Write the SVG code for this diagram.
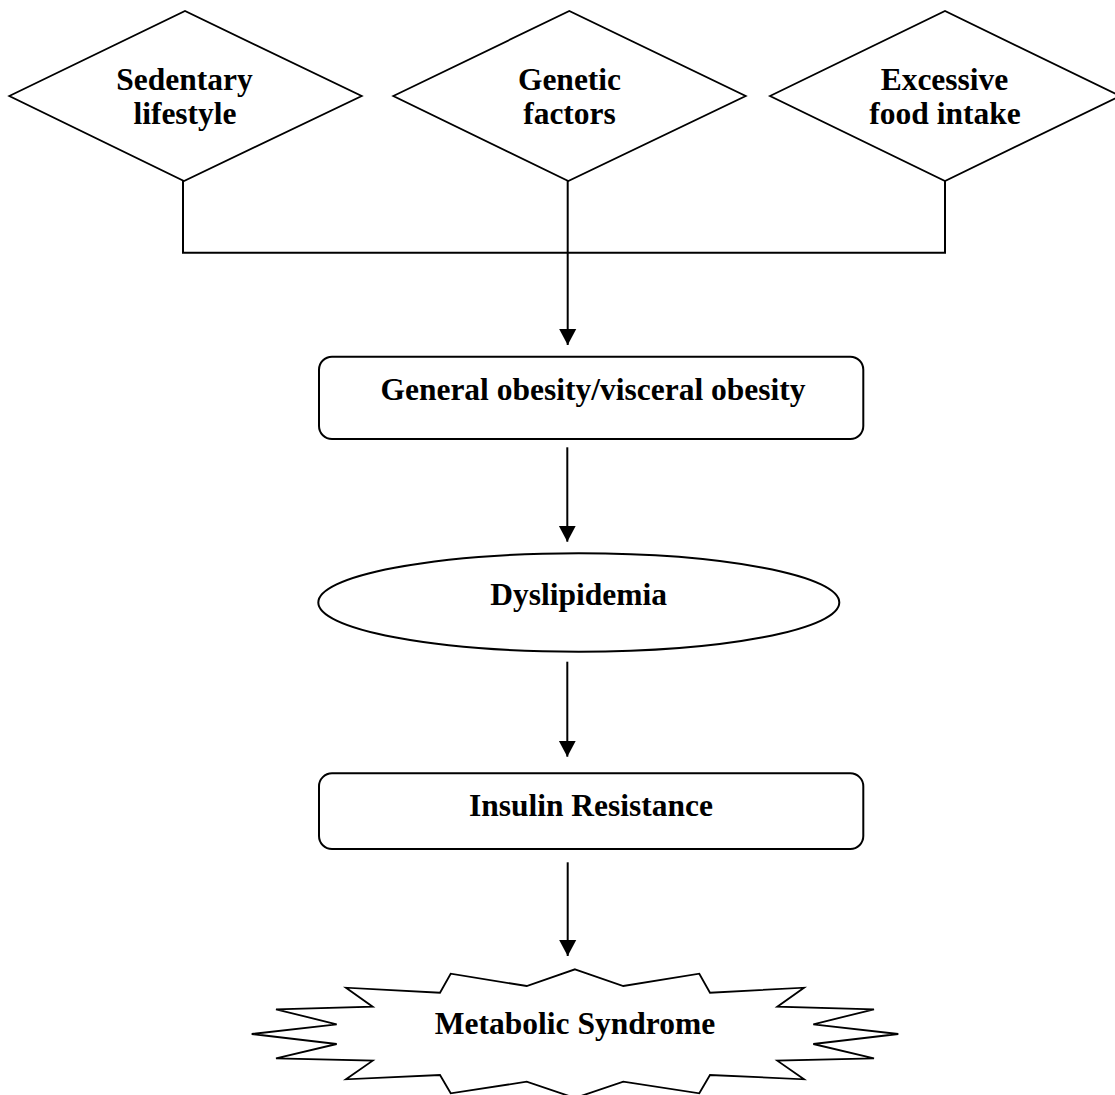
<svg xmlns="http://www.w3.org/2000/svg" width="1115" height="1095" viewBox="0 0 1115 1095">
<style>
.shape{fill:#fff;stroke:#000;stroke-width:1.8;stroke-linejoin:miter}
.box{fill:#fff;stroke:#000;stroke-width:2}
.conn{fill:none;stroke:#000;stroke-width:2}
.lbl{font-family:"Liberation Serif","Times New Roman",serif;font-weight:bold;font-size:31.5px;fill:#000;text-anchor:middle}
</style>
<defs>
<marker id="arr" markerUnits="userSpaceOnUse" markerWidth="16" markerHeight="18" viewBox="0 -8 15 16" refX="15" refY="0" orient="auto">
<path d="M0,-8 L15,0 L0,8 z" fill="#000"/>
</marker>
</defs>
<rect x="0" y="0" width="1115" height="1095" fill="#fff"/>
<g id="connectors">
<polyline class="conn" points="183,181 183,252.7 945,252.7 945,181"/>
<line class="conn" x1="567.7" y1="181" x2="567.7" y2="345" marker-end="url(#arr)"/>
<line class="conn" x1="567.3" y1="447.3" x2="567.3" y2="541.7" marker-end="url(#arr)"/>
<line class="conn" x1="567.3" y1="661.7" x2="567.3" y2="756.7" marker-end="url(#arr)"/>
<line class="conn" x1="567.7" y1="862.3" x2="567.7" y2="956" marker-end="url(#arr)"/>
</g>
<g id="sedentary">
<polygon class="shape" points="9.3,96 185,11 361.7,96 184,181"/>
<text class="lbl" x="184.5" y="90">Sedentary</text>
<text class="lbl" x="185" y="124">lifestyle</text>
</g>
<g id="genetic">
<polygon class="shape" points="393.3,96 569.3,11 745.7,96 568.3,181"/>
<text class="lbl" x="569.5" y="90">Genetic</text>
<text class="lbl" x="569.5" y="124">factors</text>
</g>
<g id="excessive">
<polygon class="shape" points="770,96 945,11 1120,96 945,181"/>
<text class="lbl" x="944.5" y="90">Excessive</text>
<text class="lbl" x="945" y="124">food intake</text>
</g>
<g id="obesity">
<rect class="box" x="319" y="356.7" width="544.3" height="82.3" rx="13" ry="13"/>
<text class="lbl" x="593" y="400">General obesity/visceral obesity</text>
</g>
<g id="dyslipidemia">
<ellipse class="box" cx="578.8" cy="602.5" rx="260.5" ry="49.2"/>
<text class="lbl" x="578.7" y="605">Dyslipidemia</text>
</g>
<g id="insulin">
<rect class="box" x="319" y="773.3" width="544.3" height="75.7" rx="13" ry="13"/>
<text class="lbl" x="591" y="816">Insulin Resistance</text>
</g>
<g id="metabolic">
<polygon class="shape" points="575,969.3 623.3,986 699.3,973.7 710,992.7 804,987.7 777.3,1006.7 874,1009.3 813.3,1024.3 898.3,1034 813.3,1044 874,1058.3 777.3,1060.7 804,1079.3 710,1075 699.3,1093.3 623.3,1081.7 575,1098 526.7,1081.7 450.7,1093.3 440,1075 346,1079.3 372.7,1060.7 276,1058.3 336.7,1044 251.7,1034 336.7,1024.3 276,1009.3 372.7,1006.7 346,987.7 440,992.7 450.7,973.7 526.7,986"/>
<text class="lbl" x="575" y="1034">Metabolic Syndrome</text>
</g>
</svg>
